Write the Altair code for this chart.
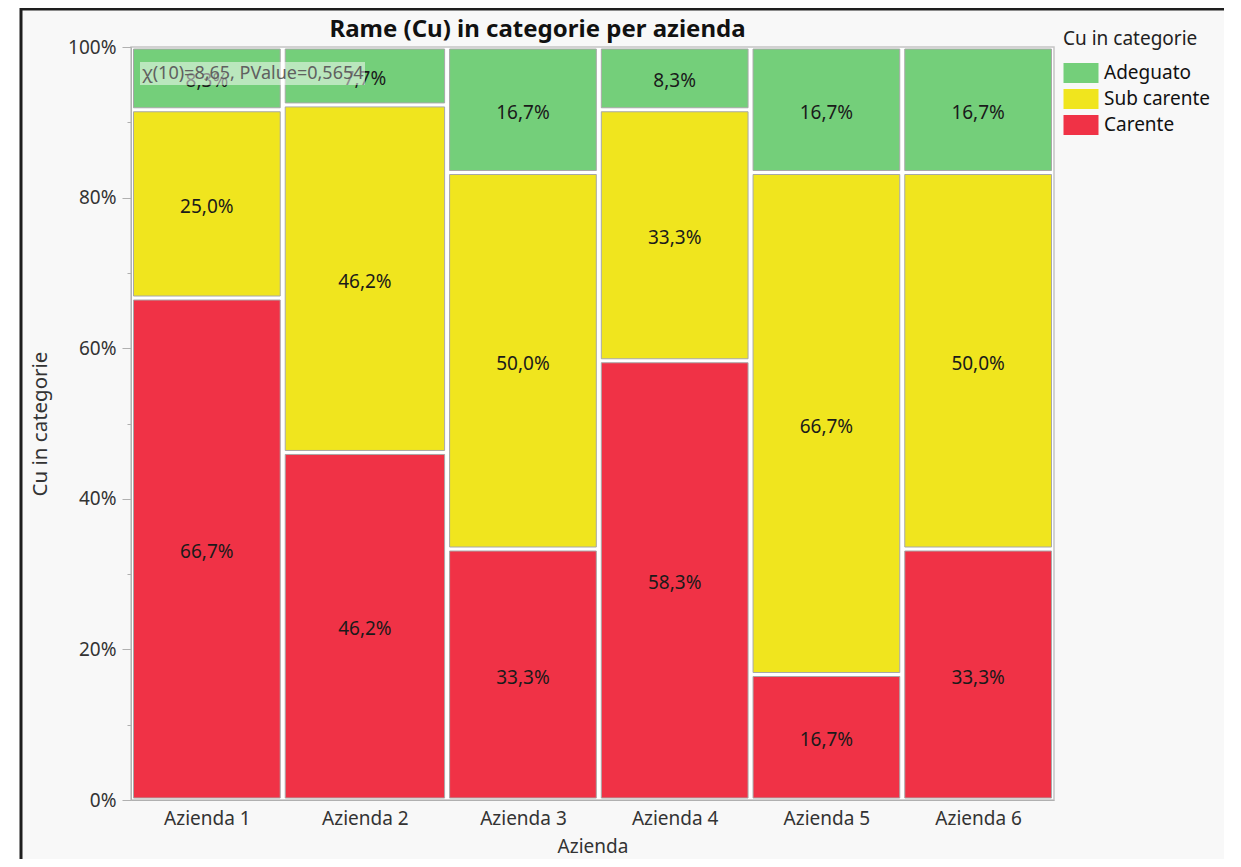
import altair as alt
import pandas as pd

aziende = ["Azienda 1", "Azienda 2", "Azienda 3", "Azienda 4", "Azienda 5", "Azienda 6"]
categorie = ["Adeguato", "Sub carente", "Carente"]
adeguato = [1, 1, 2, 1, 2, 2]
sub_carente = [3, 6, 6, 4, 8, 6]
carente = [8, 6, 4, 7, 2, 4]
colori = ["#74cf7a", "#f0e51e", "#f03246"]
annotazione = "χ(10)=8,65, PValue=0,5654"
titolo = "Rame (Cu) in categorie per azienda"

FONT = "Noto Sans"
FS = 19
W, H = 923, 753

rows = []
xc = 0
centers = []
for i, a in enumerate(aziende):
    counts = {"Carente": carente[i], "Sub carente": sub_carente[i], "Adeguato": adeguato[i]}
    n = sum(counts.values())
    x0, x1 = xc, xc + n
    centers.append((x0 + x1) / 2)
    yc = 0.0
    for cat in ["Carente", "Sub carente", "Adeguato"]:
        p = counts[cat] / n
        rows.append({
            "azienda": a, "cat": cat, "x0": x0, "x1": x1, "xm": (x0 + x1) / 2,
            "y0": yc, "y1": yc + p, "ym": yc + p / 2,
            "label": f"{p*100:.1f}".replace(".", ",") + "%",
        })
        yc += p
    xc = x1
total = xc
df = pd.DataFrame(rows)

label_expr = " : ".join(f"datum.value == {c} ? '{a}'" for c, a in zip(centers, aziende)) + " : ''"

xscale = alt.Scale(domain=[0, total], nice=False, zero=False)
yscale = alt.Scale(domain=[0, 1], nice=False)

one = alt.Data(values=[{}])

frame = alt.Chart(one).mark_rect(fill="#f8f8f8", stroke="#1e1e1e", strokeWidth=3).encode(
    x=alt.value(-110), x2=alt.value(W + 250), y=alt.value(-38), y2=alt.value(H + 120)
)
plotbg = alt.Chart(one).mark_rect(fill="white", stroke="#c4c4c4", strokeWidth=1.5).encode(
    x=alt.value(0), x2=alt.value(W), y=alt.value(0), y2=alt.value(H)
)

bars = alt.Chart(df).mark_rect(
    stroke="#a8a8a8", strokeWidth=1, xOffset=2.5, x2Offset=-2.5, yOffset=2, y2Offset=-2
).encode(
    x=alt.X("x0:Q", scale=xscale, axis=alt.Axis(
        values=centers, labelExpr=label_expr, ticks=False, grid=False, zindex=1,
        domainColor="#b0b0b0", labelFontSize=FS, labelColor="#333", labelFont=FONT,
        labelPadding=9, title="Azienda", titleFont=FONT, titleFontSize=19,
        titleFontWeight="normal", titleColor="#333", titlePadding=9)),
    x2="x1:Q",
    y=alt.Y("y1:Q", scale=yscale, axis=alt.Axis(
        orient="left", values=[0, 0.2, 0.4, 0.6, 0.8, 1.0], format=".0%", grid=False,
        zindex=1, tickSize=9, tickColor="#b0b0b0", domainColor="#b0b0b0", labelFontSize=FS,
        labelColor="#333", labelFont=FONT, labelPadding=6, title="Cu in categorie",
        titleFont=FONT, titleFontSize=20.5, titleFontWeight="normal", titleColor="#333",
        titlePadding=17)),
    y2="y0:Q",
    color=alt.Color("cat:N", scale=alt.Scale(domain=categorie, range=colori), legend=alt.Legend(
        title="Cu in categorie", orient="none", legendX=932, legendY=-17, zindex=1,
        titleFont=FONT, titleFontSize=FS, titleFontWeight="normal", titleColor="#222",
        labelFont=FONT, labelFontSize=FS, labelColor="#111", titlePadding=14,
        symbolType="M-1.75,-1L1.75,-1L1.75,1L-1.75,1Z", symbolSize=400, symbolOffset=8,
        symbolStrokeWidth=0, symbolOpacity=1, rowPadding=6, labelOffset=13)),
)

labels = alt.Chart(df).mark_text(font=FONT, fontSize=FS, color="#1a1a1a", dy=3).encode(
    x=alt.X("xm:Q", scale=xscale),
    y=alt.Y("ym:Q", scale=yscale, axis=alt.Axis(
        orient="left", values=[0.1, 0.3, 0.5, 0.7, 0.9], labels=False, domain=False,
        grid=False, zindex=1, tickSize=4, tickColor="#b0b0b0", title=None)),
    text="label:N",
)

box = alt.Chart(one).mark_rect(fill="white", opacity=0.5).encode(
    x=alt.value(9), x2=alt.value(234), y=alt.value(15), y2=alt.value(38)
)
note = alt.Chart(one).mark_text(font=FONT, fontSize=18, color="#606060", align="left", baseline="middle").encode(
    x=alt.value(11), y=alt.value(27), text=alt.value(annotazione)
)

chart = alt.layer(frame, plotbg, bars, labels, box, note).resolve_axis(y="independent").properties(
    width=W, height=H,
    title=alt.TitleParams(titolo, font=FONT, fontSize=24, fontWeight="bold", color="#111",
                          anchor="middle", dx=-55, offset=-34, zindex=1),
    autosize=alt.AutoSizeParams(type="none"),
    padding={"left": 123, "top": 39, "right": 170, "bottom": 59},
    background="white",
).configure_view(stroke=None)

chart.save("out.html", embed_options={"renderer": "svg", "actions": False})
